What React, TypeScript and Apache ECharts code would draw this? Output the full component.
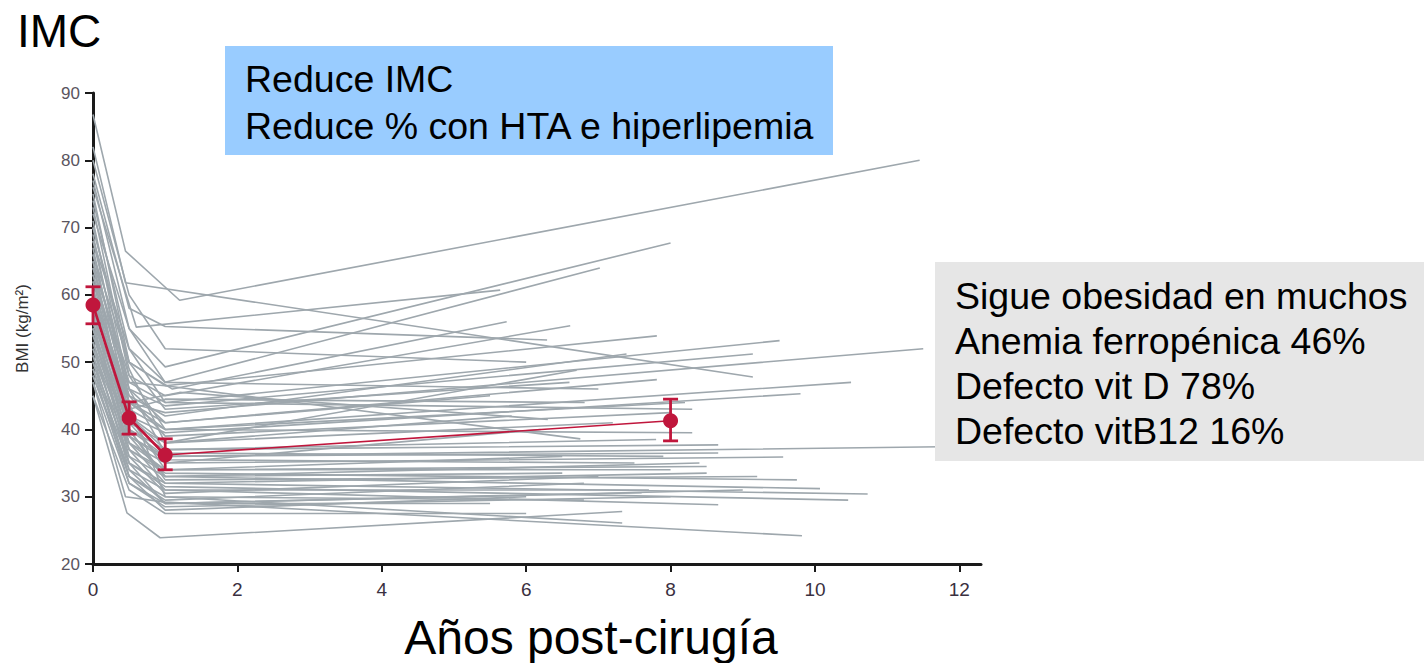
import React, { useEffect, useRef } from "react";
import * as echarts from "echarts";

// Axis settings
const xMin = 0;
const xMax = 12.3;
const xInterval = 2;
const yMin = 20;
const yMax = 90;
const yInterval = 10;

// Individual patient BMI trajectories: [years, BMI]
const patients: number[][][] = [
  [[0, 86.8], [0.45, 66.5], [1.2, 59.2], [11.45, 80]],
  [[0, 82], [0.45, 61.8], [9.14, 47.8]],
  [[0, 78], [0.5, 58], [1.0, 55.3], [6.29, 53.3]],
  [[0, 76], [0.6, 55.2], [5.64, 60.7]],
  [[0, 72], [0.5, 55], [1.0, 49.3], [8.0, 67.7]],
  [[0, 68], [0.5, 52], [1.0, 47], [7.02, 64]],
  [[0, 66], [0.5, 50], [1.1, 46], [5.73, 56]],
  [[0, 64], [0.5, 48], [1.0, 45], [6.61, 55.4]],
  [[0, 70], [0.5, 50], [1.0, 46.5], [7.81, 53.9]],
  [[0, 62], [0.5, 47], [1.0, 44], [9.51, 53.2]],
  [[0, 63], [0.5, 46], [1.0, 43.5], [9.14, 51.2]],
  [[0, 60], [0.5, 45], [1.0, 42], [7.39, 51.2]],
  [[0, 61], [0.5, 44], [1.0, 42.5], [11.5, 52]],
  [[0, 59], [0.5, 44], [1.0, 41], [7.81, 47.4]],
  [[0, 58], [0.5, 43], [1.0, 40], [10.5, 47]],
  [[0, 57], [0.5, 42], [1.0, 39.5], [9.8, 45.3]],
  [[0, 60], [0.5, 43], [1.0, 44.5], [6.81, 44]],
  [[0, 65], [0.5, 47], [1.0, 46.5], [6.75, 38.6]],
  [[0, 56], [0.5, 41], [1.0, 38], [6.7, 48.8]],
  [[0, 55], [0.5, 40], [1.0, 37], [8.66, 37.7]],
  [[0, 54], [0.5, 39], [1.0, 36], [8.66, 36.5]],
  [[0, 57], [0.5, 40], [1.0, 36], [12.3, 37.5]],
  [[0, 53], [0.5, 38], [1.0, 35], [9.56, 35.9]],
  [[0, 52], [0.5, 38], [1.0, 34], [6.5, 36]],
  [[0, 55], [0.5, 39], [1.0, 35.5], [7.5, 35]],
  [[0, 51], [0.5, 37], [1.0, 34], [8.0, 34]],
  [[0, 50], [0.5, 36], [1.0, 33], [10.07, 31.2]],
  [[0, 54], [0.5, 37], [1.0, 33.5], [9.75, 32.5]],
  [[0, 49], [0.5, 35], [1.0, 32], [10.73, 30.4]],
  [[0, 52], [0.5, 35], [1.0, 31.5], [10.46, 29.5]],
  [[0, 48], [0.5, 34], [1.0, 31], [8.66, 28.8]],
  [[0, 45], [0.47, 27.6], [0.93, 23.9], [7.33, 27.8]],
  [[0, 47], [0.45, 30], [1.0, 29.2], [9.82, 24.2]],
  [[0, 50], [0.5, 33], [1.0, 30], [7.33, 26.1]],
  [[0, 53], [0.5, 34], [1.0, 29], [7.6, 30.6]],
  [[0, 51], [0.5, 33], [1.0, 28], [6.0, 30]],
  [[0, 49], [0.5, 32], [1.0, 28.5], [8.0, 30]],
  [[0, 48], [0.5, 33], [1.0, 29.5], [6.8, 32]],
  [[0, 56], [0.5, 36], [1.0, 30.5], [7.0, 33]],
  [[0, 58], [0.5, 38], [1.0, 32], [8.5, 33.5]],
  [[0, 62], [0.5, 42], [1.0, 38], [7.2, 41]],
  [[0, 64], [0.5, 44], [1.0, 40], [8.2, 44]],
  [[0, 60], [0.5, 41], [1.0, 35], [6.2, 40]],
  [[0, 66], [0.5, 45], [1.0, 39], [8.0, 42.5]],
  [[0, 68], [0.5, 46], [1.0, 41], [5.5, 45]],
  [[0, 63], [0.5, 42], [1.0, 37], [7.8, 38.5]],
  [[0, 59], [0.5, 40], [1.0, 33], [6.5, 33.5]],
  [[0, 57], [0.5, 37], [1.0, 31], [7.7, 31]],
  [[0, 55], [0.5, 35], [1.0, 29], [5.5, 29]],
  [[0, 61], [0.5, 39], [1.0, 33], [8.4, 35]],
  [[0, 45], [0.5, 31], [1.0, 27.5], [6.0, 27.5]],
  [[0, 47], [0.5, 32], [1.0, 29], [9.0, 31]],
  [[0, 74], [0.5, 52], [1.0, 44], [8.3, 43]],
  [[0, 58], [0.5, 44], [1.2, 45.5], [6.3, 41.5]],
  [[0, 70], [0.5, 49], [1.0, 38], [5.8, 42]],
  [[0, 80], [0.5, 60], [1.0, 52], [6.0, 50]],
  [[0, 77], [0.5, 55], [1.0, 47], [7.0, 46]],
  [[0, 75], [0.5, 50], [1.0, 43], [6.6, 47]],
  [[0, 73], [0.5, 48], [1.0, 40], [8.3, 39.5]],
  [[0, 71], [0.5, 46], [1.0, 36.5], [7.9, 36]],
  [[0, 67], [0.5, 42], [1.0, 34], [8.5, 34.5]],
  [[0, 65], [0.5, 40], [1.0, 32.5], [9.2, 33]],
  [[0, 69], [0.5, 44], [1.0, 30], [6.8, 29.5]],
];

// Mean BMI with error bars
const meanX = [0, 0.5, 1, 8];
const meanY = [58.5, 41.7, 36.2, 41.3];
const errLow = [55.7, 39.3, 34.0, 38.3];
const errHigh = [61.2, 44.1, 38.6, 44.5];

// Texts
const title = "IMC";
const xTitle = "Años post-cirugía";
const yTitle = "BMI (kg/m²)";
const blueLines = ["Reduce IMC", "Reduce % con HTA e hiperlipemia"];
const grayLines = [
  "Sigue obesidad en muchos",
  "Anemia ferropénica 46%",
  "Defecto vit D 78%",
  "Defecto vitB12 16%",
];

const RED = "#c0163c";
const GRAY = "#9ea7ad";
const FONT = "'Liberation Sans', Arial, sans-serif";
const NARROW = "'Liberation Sans Narrow', 'Liberation Sans', sans-serif";

export default function App() {
  const ref = useRef<HTMLDivElement>(null);

  useEffect(() => {
    if (!ref.current) return;
    const chart = echarts.init(ref.current, null, { renderer: "svg" });

    const series: any[] = patients.map((p) => ({
      type: "line",
      data: p,
      symbol: "none",
      silent: true,
      lineStyle: { color: GRAY, width: 1.6 },
      z: 2,
    }));

    const meanPts = meanX.map((x, i) => [x, meanY[i]]);

    // early (thicker) segment of the mean line
    series.push({
      type: "line",
      data: meanPts.slice(0, 3),
      symbol: "none",
      lineStyle: { color: RED, width: 2.6 },
      z: 6,
    });
    // long-term (thinner) segment of the mean line
    series.push({
      type: "line",
      data: meanPts.slice(2),
      symbol: "none",
      lineStyle: { color: RED, width: 1.6 },
      z: 6,
    });
    // mean markers
    series.push({
      type: "scatter",
      data: meanPts,
      symbol: "circle",
      symbolSize: 15,
      itemStyle: { color: RED, opacity: 1 },
      z: 8,
    });

    series.push({
      type: "custom",
      data: meanX.map((x, i) => [x, errLow[i], errHigh[i]]),
      encode: { x: 0, y: [1, 2] },
      z: 7,
      renderItem: (params: any, api: any) => {
        const x = api.value(0);
        const lo = api.coord([x, api.value(1)]);
        const hi = api.coord([x, api.value(2)]);
        const cw = 7.5;
        const st = { stroke: RED, lineWidth: 2.8 };
        return {
          type: "group",
          children: [
            { type: "line", shape: { x1: lo[0], y1: lo[1], x2: hi[0], y2: hi[1] }, style: st },
            { type: "line", shape: { x1: lo[0] - cw, y1: lo[1], x2: lo[0] + cw, y2: lo[1] }, style: st },
            { type: "line", shape: { x1: hi[0] - cw, y1: hi[1], x2: hi[0] + cw, y2: hi[1] }, style: st },
          ],
        };
      },
    });

    const graphic: any[] = [
      {
        type: "text",
        x: 17,
        y: 31,
        style: { text: title, font: `46px ${FONT}`, fill: "#000", textVerticalAlign: "middle" },
      },
      {
        type: "rect",
        shape: { x: 225, y: 46, width: 608, height: 109 },
        style: { fill: "#99ccff" },
        z: 20,
      },
      ...blueLines.map((t, i) => ({
        type: "text",
        x: 245,
        y: 79 + i * 47,
        z: 21,
        style: { text: t, font: `37.5px ${FONT}`, fill: "#000", textVerticalAlign: "middle" },
      })),
      {
        type: "rect",
        shape: { x: 935, y: 262, width: 489, height: 199 },
        style: { fill: "#e6e6e6" },
        z: 20,
      },
      ...grayLines.map((t, i) => ({
        type: "text",
        x: 955,
        y: 296 + i * 45,
        z: 21,
        style: { text: t, font: `37.5px ${FONT}`, fill: "#000", textVerticalAlign: "middle" },
      })),
      {
        type: "text",
        x: 591,
        y: 637,
        z: 21,
        style: {
          text: xTitle,
          font: `48px ${FONT}`,
          fill: "#000",
          textAlign: "center",
          textVerticalAlign: "middle",
        },
      },
    ];

    chart.setOption({
      animation: false,
      backgroundColor: "#fff",
      grid: { left: 93, top: 93, width: 888, height: 471, containLabel: false },
      xAxis: {
        type: "value",
        min: xMin,
        max: xMax,
        interval: xInterval,
        splitLine: { show: false },
        axisLine: { show: true, lineStyle: { color: "#1a1a1a", width: 3 } },
        axisTick: { show: true, length: 8, lineStyle: { color: "#1a1a1a", width: 2 } },
        axisLabel: {
          color: "#3a3040",
          fontSize: 19,
          fontFamily: NARROW,
          margin: 16,
          showMaxLabel: false,
        },
      },
      yAxis: {
        type: "value",
        min: yMin,
        max: yMax,
        interval: yInterval,
        name: yTitle,
        nameLocation: "middle",
        nameRotate: 90,
        nameGap: 62,
        nameTextStyle: { color: "#333", fontSize: 17, fontFamily: NARROW },
        splitLine: { show: false },
        axisLine: { show: true, lineStyle: { color: "#1a1a1a", width: 3 } },
        axisTick: { show: true, length: 8, lineStyle: { color: "#1a1a1a", width: 2 } },
        axisLabel: { color: "#5a5560", fontSize: 17, fontFamily: NARROW, margin: 13 },
      },
      series,
      graphic,
    });

    return () => chart.dispose();
  }, []);

  return (
    <div
      ref={ref}
      style={{ position: "absolute", left: 0, top: 0, width: 1424, height: 663, background: "#fff" }}
    />
  );
}
